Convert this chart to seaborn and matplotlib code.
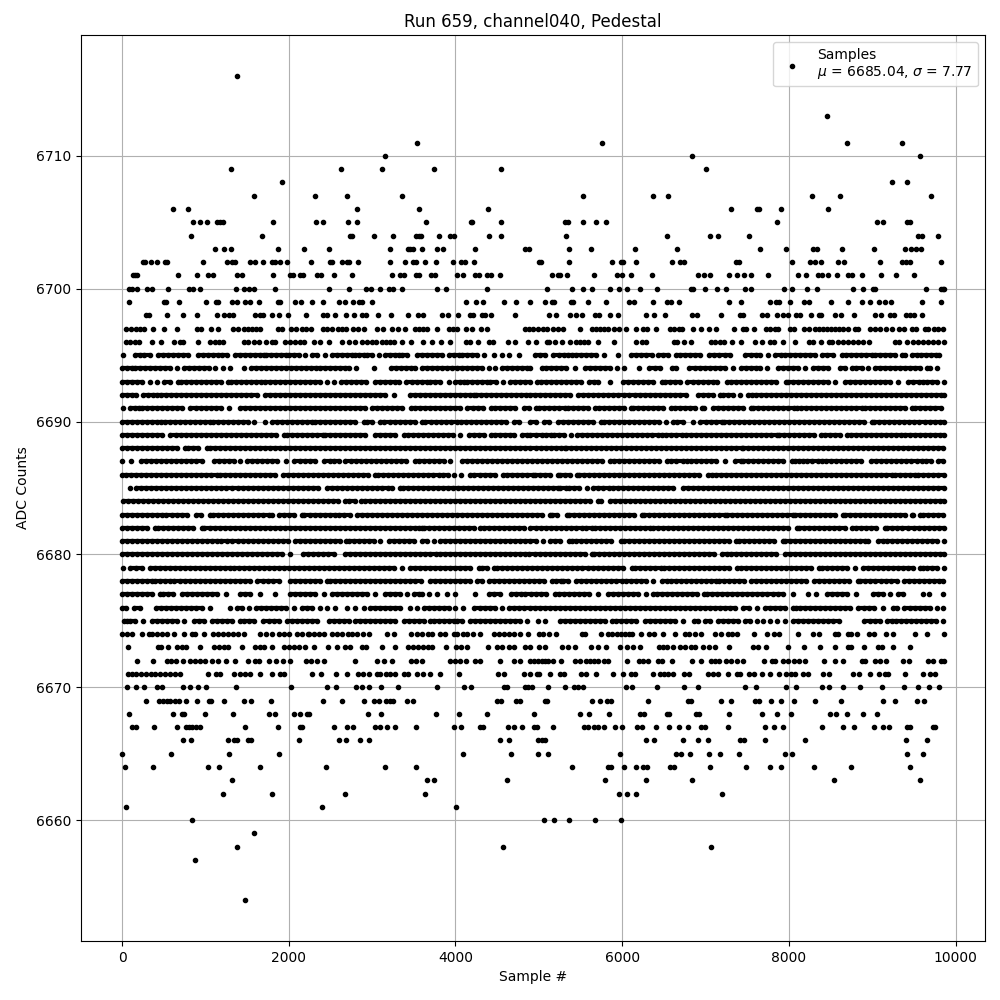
import pandas as pd
import seaborn as sns
import matplotlib.pyplot as plt

# sample numbers, one list per ADC level
adc_6716 = [1376]
adc_6713 = [8460]
adc_6711 = [3536, 5760, 8700, 9360]
adc_6710 = [3152, 6840, 9576]
adc_6709 = [1304, 2624, 3116, 3740, 4544, 7008]
adc_6708 = [1916, 9240, 9420]
adc_6707 = [1580, 2312, 2696, 3356, 5532, 6372, 6552, 8280, 8616, 9708]
adc_6706 = [608, 788, 2816, 3560, 4388, 7308, 7620, 7640, 7908, 8472]
adc_6705 = [848, 932, 1016, 1140, 1176, 1212, 1808, 2324, 2408, 2708, 2816, 3644, 4188, 4204, 4544, 5316, 5352, 5532, 5688, 5808, 7860, 9060, 9132, 9420, 9456]
adc_6704 = [824, 1676, 2740, 2764, 3020, 3248, 3532, 3558, 3584, 3804, 3940, 3980, 4400, 4544, 5328, 6540, 7056, 7152, 7524, 9552, 9600, 9792]
adc_6703 = [1112, 1220, 1304, 1868, 2180, 2480, 3212, 3428, 3458, 3488, 3596, 3776, 3848, 4232, 4832, 4880, 5364, 5628, 6156, 6660, 7656, 7968, 8292, 8340, 8640, 9024, 9396, 9468, 9528, 9588]
adc_6702 = [248, 272, 344, 416, 512, 540, 968, 1256, 1316, 1352, 1532, 1592, 1688, 1796, 1832, 1896, 1976, 2264, 2492, 2516, 2636, 2700, 2724, 2828, 3212, 3392, 3488, 3524, 3632, 3764, 3968, 4064, 4112, 4220, 5004, 5020, 5364, 5880, 5988, 6012, 6168, 6600, 6696, 6744, 7368, 7404, 8040, 8256, 8316, 8388, 8592, 8664, 9096, 9360, 9408, 9456, 9828]
adc_6701 = [128, 152, 176, 668, 896, 1028, 1088, 1376, 1436, 1808, 2012, 2048, 2132, 2168, 2336, 2384, 2540, 2756, 3236, 3332, 3380, 3524, 3560, 3704, 3752, 4016, 4088, 4232, 4280, 4376, 4424, 4532, 5160, 5232, 5256, 5340, 5664, 5940, 6000, 6108, 6360, 6912, 6984, 7056, 7284, 7380, 7464, 7548, 7752, 8112, 8208, 8352, 8400, 8472, 8580, 8712, 8760, 8880, 9108, 9288, 9504]
adc_6700 = [80, 116, 176, 296, 356, 548, 800, 848, 932, 1364, 1460, 1520, 1580, 1832, 2480, 2720, 2924, 2984, 3100, 3200, 3252, 3356, 3776, 3884, 4376, 5100, 5400, 5532, 5640, 5856, 5964, 6060, 6216, 6420, 6828, 6852, 6996, 7140, 7248, 7476, 7548, 7944, 8040, 8220, 8340, 8772, 8892, 9012, 9036, 9648, 9820, 9845, 9860]
adc_6699 = [80, 500, 524, 680, 1004, 1124, 1148, 1316, 1376, 1472, 1532, 1640, 1868, 1892, 2072, 2144, 2276, 2416, 2600, 2672, 2768, 2840, 2876, 2996, 4124, 4244, 4328, 4580, 4724, 4892, 5076, 5160, 5184, 5388, 5412, 5592, 5808, 6084, 6144, 6372, 6540, 6588, 6684, 7284, 7428, 7776, 7848, 7884, 8016, 8184, 8244, 8508, 8712, 8880, 8976, 9084, 9156, 9228, 9600, 9828]
adc_6698 = [284, 320, 536, 728, 896, 1136, 1220, 1280, 1328, 1592, 1652, 1688, 1796, 1880, 1988, 2204, 2408, 2456, 2552, 2684, 2780, 2876, 2924, 3068, 3224, 3428, 3548, 3608, 3836, 3908, 4028, 4172, 4208, 4316, 4352, 4424, 4712, 5124, 5208, 5376, 5448, 5520, 5676, 5724, 5856, 5952, 6288, 6384, 6516, 6840, 6900, 7188, 7416, 7452, 7680, 7740, 7860, 7932, 7992, 8088, 8136, 8268, 8364, 8388, 8556, 8628, 8784, 9036, 9108, 9216, 9264, 9408, 9456, 9504, 9600]
adc_6697 = [44, 104, 164, 212, 260, 368, 500, 656, 896, 944, 1064, 1148, 1328, 1388, 1460, 1508, 1556, 1604, 1652, 1868, 1916, 2024, 2084, 2156, 2204, 2264, 2408, 2456, 2516, 2588, 2636, 2684, 2768, 2828, 2900, 3056, 3128, 3236, 3308, 3396, 3512, 3560, 3608, 3656, 3776, 3920, 3968, 4016, 4124, 4196, 4304, 4376, 4832, 4880, 4932, 4992, 5052, 5100, 5172, 5232, 5292, 5496, 5640, 5688, 5736, 5784, 5832, 5904, 5964, 6048, 6168, 6252, 6300, 6408, 6576, 6624, 6684, 6720, 6852, 6948, 7044, 7128, 7344, 7452, 7488, 7584, 7728, 7776, 7836, 7872, 8016, 8064, 8184, 8244, 8316, 8364, 8412, 8460, 8508, 8556, 8604, 8652, 8712, 8796, 8832, 8976, 9036, 9096, 9168, 9240, 9324, 9384, 9480, 9528, 9636, 9672, 9744, 9792, 9852]
adc_6696 = [44, 92, 152, 200, 356, 464, 620, 692, 728, 908, 1052, 1112, 1160, 1208, 1460, 1508, 1580, 1640, 1724, 1796, 1832, 1952, 2012, 2072, 2132, 2180, 2300, 2372, 2480, 2636, 2720, 2792, 2876, 2936, 2996, 3044, 3116, 3164, 3212, 3260, 3356, 3464, 3608, 3716, 3824, 3932, 4124, 4172, 4268, 4400, 4448, 4628, 4712, 4868, 4968, 5100, 5124, 5196, 5280, 5376, 5448, 5496, 5544, 5592, 5712, 5904, 6168, 6240, 6288, 6624, 6660, 6744, 6828, 7068, 7116, 7176, 7224, 7320, 7428, 7596, 7680, 7776, 7824, 7932, 8076, 8244, 8292, 8380, 8484, 8520, 8592, 8652, 8712, 8772, 8832, 8892, 8964, 9276, 9324, 9420, 9492, 9552, 9612, 9672, 9732, 9792, 9860]
adc_6695 = [8, 160, 220, 260, 332, 428, 490, 550, 610, 670, 730, 788, 908, 970, 1030, 1090, 1150, 1200, 1260, 1360, 1420, 1480, 1540, 1600, 1660, 1700, 1728, 1790, 1850, 1910, 1970, 2000, 2060, 2120, 2200, 2280, 2340, 2440, 2520, 2580, 2640, 2700, 2760, 2800, 2840, 2900, 2940, 3000, 3080, 3160, 3220, 3280, 3320, 3360, 3420, 3540, 3600, 3660, 3720, 3780, 3840, 3920, 3980, 4040, 4080, 4140, 4200, 4260, 4340, 4460, 4560, 4640, 4760, 4952, 5010, 5072, 5172, 5240, 5300, 5352, 5392, 5450, 5510, 5570, 5630, 5690, 5780, 5952, 6104, 6170, 6230, 6290, 6352, 6432, 6490, 6550, 6640, 6692, 6750, 6810, 6870, 6932, 7040, 7100, 7160, 7232, 7292, 7472, 7540, 7600, 7652, 7752, 7832, 7900, 7952, 8012, 8070, 8130, 8190, 8250, 8312, 8392, 8460, 8524, 8632, 8690, 8750, 8810, 8870, 8930, 8992, 9032, 9090, 9150, 9210, 9270, 9352, 9392, 9472, 9532, 9590, 9650, 9710, 9770, 9804]
adc_6694 = [0, 60, 120, 160, 212, 270, 330, 390, 450, 510, 570, 660, 740, 800, 860, 920, 980, 1040, 1120, 1212, 1292, 1460, 1548, 1610, 1670, 1730, 1790, 1850, 1910, 1970, 2030, 2090, 2150, 2210, 2270, 2332, 2372, 2430, 2490, 2550, 2610, 2680, 2720, 2812, 3020, 3228, 3290, 3350, 3410, 3470, 3520, 3600, 3660, 3720, 3780, 3840, 3900, 3960, 4020, 4080, 4140, 4200, 4260, 4320, 4400, 4480, 4560, 4620, 4680, 4740, 4800, 4860, 4892, 5032, 5090, 5150, 5210, 5270, 5330, 5432, 5552, 5610, 5670, 5730, 5790, 5850, 5932, 6024, 6200, 6320, 6390, 6452, 6592, 6640, 6804, 6870, 6930, 6990, 7050, 7110, 7170, 7230, 7324, 7420, 7480, 7540, 7600, 7652, 7732, 7872, 7930, 7990, 8050, 8110, 8192, 8284, 8350, 8410, 8472, 8612, 8672, 8752, 8810, 8872, 8952, 9032, 9090, 9150, 9210, 9270, 9330, 9390, 9450, 9510, 9570, 9652, 9692, 9772]
adc_6693 = [0, 60, 120, 180, 240, 340, 420, 508, 570, 668, 708, 770, 830, 890, 950, 1010, 1070, 1130, 1190, 1268, 1308, 1370, 1430, 1490, 1550, 1610, 1668, 1720, 1780, 1840, 1900, 1960, 2020, 2080, 2140, 2200, 2260, 2320, 2380, 2460, 2548, 2628, 2690, 2750, 2810, 2870, 2928, 3040, 3100, 3160, 3212, 3270, 3320, 3412, 3480, 3540, 3600, 3660, 3700, 3760, 3820, 3920, 4000, 4060, 4100, 4140, 4200, 4260, 4320, 4380, 4420, 4490, 4572, 4652, 4710, 4770, 4830, 4892, 4972, 5020, 5080, 5140, 5200, 5260, 5320, 5380, 5440, 5500, 5604, 5660, 5712, 5852, 6012, 6070, 6130, 6190, 6250, 6310, 6370, 6472, 6512, 6570, 6630, 6690, 6780, 6852, 6910, 6970, 7030, 7090, 7140, 7252, 7310, 7370, 7430, 7490, 7550, 7610, 7670, 7730, 7790, 7850, 7964, 7992, 8050, 8110, 8170, 8230, 8290, 8350, 8410, 8472, 8552, 8672, 8730, 8790, 8850, 8910, 8970, 9030, 9090, 9150, 9210, 9312, 9432, 9490, 9564, 9604, 9660, 9720, 9780, 9860]
adc_6692 = [0, 60, 120, 172, 252, 310, 370, 420, 472, 530, 590, 650, 710, 770, 830, 890, 950, 1010, 1070, 1130, 1190, 1250, 1310, 1370, 1430, 1490, 1550, 1620, 1720, 1780, 1840, 1900, 1960, 2020, 2080, 2140, 2200, 2260, 2320, 2380, 2440, 2500, 2560, 2620, 2680, 2740, 2800, 2860, 2920, 2980, 3040, 3100, 3160, 3268, 3452, 3510, 3570, 3630, 3690, 3750, 3810, 3870, 3930, 3990, 4050, 4110, 4170, 4220, 4252, 4310, 4370, 4430, 4490, 4550, 4610, 4670, 4730, 4790, 4850, 4892, 4950, 5010, 5070, 5130, 5190, 5250, 5310, 5370, 5472, 5532, 5590, 5650, 5710, 5770, 5830, 5890, 5950, 6024, 6084, 6150, 6210, 6270, 6330, 6390, 6450, 6510, 6570, 6630, 6690, 6760, 6912, 6970, 7030, 7090, 7172, 7204, 7270, 7330, 7412, 7504, 7552, 7610, 7670, 7730, 7790, 7850, 7910, 7970, 8030, 8090, 8150, 8210, 8270, 8330, 8390, 8450, 8510, 8570, 8630, 8690, 8750, 8810, 8870, 8930, 8990, 9050, 9110, 9170, 9230, 9290, 9350, 9410, 9470, 9530, 9590, 9650, 9710, 9770, 9830, 9860]
adc_6691 = [8, 92, 150, 200, 240, 300, 360, 420, 480, 540, 600, 660, 720, 820, 892, 950, 1010, 1070, 1130, 1188, 1280, 1412, 1470, 1530, 1590, 1650, 1710, 1770, 1830, 1890, 1950, 2010, 2070, 2130, 2190, 2250, 2310, 2370, 2430, 2490, 2550, 2610, 2670, 2730, 2790, 2850, 2910, 3000, 3060, 3120, 3180, 3240, 3300, 3360, 3468, 3520, 3580, 3640, 3700, 3760, 3820, 3880, 3940, 4000, 4060, 4140, 4212, 4270, 4330, 4428, 4480, 4540, 4600, 4660, 4720, 4820, 4880, 4964, 5004, 5060, 5120, 5180, 5240, 5312, 5352, 5410, 5470, 5530, 5590, 5672, 5724, 5780, 5840, 5900, 5960, 6020, 6100, 6132, 6190, 6250, 6310, 6372, 6432, 6490, 6580, 6632, 6690, 6750, 6810, 6870, 6952, 6980, 7092, 7150, 7210, 7270, 7330, 7390, 7450, 7540, 7572, 7630, 7690, 7750, 7810, 7870, 7930, 7990, 8064, 8092, 8150, 8210, 8270, 8330, 8390, 8450, 8510, 8570, 8630, 8690, 8750, 8810, 8872, 8912, 8970, 9030, 9090, 9150, 9210, 9270, 9330, 9390, 9472, 9512, 9570, 9630, 9690, 9750, 9820]
adc_6690 = [0, 60, 120, 180, 240, 300, 360, 420, 472, 520, 580, 640, 700, 760, 820, 880, 940, 1000, 1060, 1092, 1150, 1210, 1270, 1330, 1390, 1450, 1510, 1588, 1720, 1800, 1860, 1920, 1980, 2040, 2100, 2160, 2220, 2280, 2320, 2380, 2440, 2500, 2560, 2620, 2680, 2740, 2800, 2900, 2940, 3000, 3100, 3148, 3210, 3270, 3330, 3390, 3450, 3510, 3600, 3640, 3712, 3772, 3830, 3890, 3950, 4020, 4068, 4130, 4190, 4250, 4310, 4370, 4430, 4490, 4550, 4610, 4700, 4760, 4892, 4964, 5060, 5120, 5232, 5292, 5350, 5410, 5470, 5530, 5590, 5650, 5740, 5780, 5840, 5900, 5960, 6020, 6080, 6140, 6200, 6260, 6320, 6380, 6440, 6524, 6604, 6660, 6724, 6852, 6932, 7004, 7060, 7120, 7192, 7220, 7280, 7340, 7400, 7460, 7520, 7580, 7640, 7700, 7760, 7820, 7880, 7940, 8000, 8060, 8120, 8180, 8240, 8300, 8360, 8420, 8480, 8540, 8600, 8660, 8720, 8780, 8840, 8900, 8992, 9020, 9080, 9140, 9200, 9260, 9320, 9380, 9440, 9500, 9560, 9632, 9692, 9750, 9810, 9860]
adc_6689 = [0, 60, 120, 180, 240, 300, 360, 420, 480, 580, 652, 710, 770, 830, 890, 950, 1010, 1070, 1130, 1190, 1250, 1310, 1370, 1430, 1490, 1550, 1610, 1670, 1730, 1790, 1850, 1940, 1980, 2040, 2100, 2160, 2220, 2280, 2340, 2412, 2440, 2500, 2560, 2620, 2680, 2740, 2800, 2860, 2920, 3040, 3100, 3160, 3220, 3280, 3380, 3428, 3490, 3550, 3610, 3670, 3730, 3790, 3850, 3910, 3970, 4052, 4160, 4220, 4280, 4340, 4428, 4472, 4530, 4590, 4650, 4700, 4800, 4860, 4900, 4960, 5032, 5084, 5140, 5180, 5240, 5300, 5380, 5460, 5520, 5580, 5640, 5700, 5760, 5820, 5880, 5940, 6000, 6060, 6120, 6180, 6240, 6300, 6360, 6432, 6472, 6530, 6590, 6650, 6712, 6764, 6820, 6880, 6940, 7000, 7060, 7120, 7180, 7240, 7300, 7360, 7420, 7480, 7540, 7600, 7660, 7720, 7780, 7852, 7884, 7940, 8000, 8060, 8120, 8180, 8240, 8300, 8380, 8432, 8490, 8550, 8610, 8692, 8740, 8800, 8860, 8920, 8980, 9040, 9100, 9160, 9220, 9280, 9340, 9392, 9452, 9510, 9570, 9630, 9690, 9750, 9810, 9860]
adc_6688 = [0, 60, 120, 180, 240, 300, 360, 420, 480, 540, 600, 660, 760, 788, 850, 910, 1020, 1060, 1120, 1180, 1240, 1300, 1360, 1420, 1480, 1540, 1600, 1660, 1720, 1780, 1840, 1900, 1960, 2020, 2080, 2140, 2200, 2260, 2320, 2380, 2440, 2500, 2560, 2620, 2680, 2740, 2800, 2860, 2920, 2980, 3040, 3100, 3160, 3220, 3280, 3340, 3400, 3460, 3520, 3580, 3640, 3700, 3760, 3820, 3880, 3940, 4000, 4060, 4120, 4180, 4240, 4300, 4360, 4420, 4480, 4540, 4600, 4660, 4720, 4780, 4840, 4900, 4960, 5020, 5080, 5140, 5200, 5260, 5312, 5324, 5380, 5440, 5500, 5560, 5620, 5680, 5740, 5800, 5860, 5920, 5980, 6040, 6100, 6160, 6220, 6280, 6340, 6400, 6460, 6520, 6580, 6640, 6700, 6760, 6820, 6880, 6940, 7000, 7060, 7120, 7180, 7240, 7300, 7360, 7432, 7452, 7510, 7570, 7630, 7690, 7750, 7810, 7870, 7930, 7990, 8050, 8110, 8170, 8230, 8290, 8350, 8410, 8470, 8530, 8590, 8650, 8710, 8770, 8830, 8890, 8950, 9010, 9070, 9130, 9190, 9250, 9310, 9370, 9430, 9490, 9550, 9610, 9670, 9730, 9790, 9852]
adc_6687 = [0, 108, 228, 290, 350, 410, 470, 530, 590, 650, 710, 770, 830, 890, 960, 1100, 1160, 1220, 1280, 1340, 1420, 1500, 1560, 1620, 1680, 1740, 1800, 1860, 1972, 2068, 2130, 2190, 2252, 2320, 2420, 2492, 2540, 2600, 2680, 2748, 2810, 2870, 2930, 2990, 3050, 3110, 3170, 3230, 3290, 3350, 3410, 3520, 3560, 3620, 3680, 3740, 3800, 3860, 3940, 4080, 4140, 4200, 4260, 4320, 4380, 4440, 4500, 4560, 4620, 4680, 4740, 4800, 4860, 4920, 4980, 5040, 5100, 5160, 5220, 5280, 5340, 5400, 5460, 5520, 5580, 5640, 5700, 5760, 5852, 5900, 5960, 6020, 6080, 6140, 6200, 6260, 6320, 6380, 6440, 6532, 6580, 6650, 6724, 6772, 6830, 6890, 6950, 7010, 7070, 7130, 7232, 7352, 7420, 7452, 7510, 7570, 7630, 7690, 7750, 7810, 7870, 7930, 8032, 8072, 8124, 8164, 8220, 8280, 8352, 8392, 8450, 8510, 8570, 8630, 8690, 8750, 8810, 8870, 8980, 9044, 9100, 9160, 9220, 9280, 9340, 9400, 9460, 9532, 9592, 9650, 9710, 9792, 9852]
adc_6686 = [0, 52, 110, 170, 230, 290, 350, 410, 470, 530, 590, 650, 710, 770, 830, 890, 950, 1010, 1070, 1140, 1172, 1230, 1290, 1350, 1410, 1470, 1530, 1590, 1650, 1710, 1770, 1830, 1932, 1992, 2050, 2110, 2170, 2230, 2290, 2350, 2410, 2470, 2530, 2590, 2650, 2710, 2770, 2830, 2890, 2950, 3040, 3072, 3130, 3190, 3250, 3310, 3370, 3430, 3490, 3550, 3610, 3670, 3730, 3800, 3852, 3910, 3988, 4068, 4172, 4228, 4290, 4350, 4410, 4470, 4572, 4620, 4680, 4740, 4800, 4860, 4932, 4952, 5010, 5070, 5130, 5232, 5252, 5310, 5370, 5452, 5484, 5540, 5600, 5660, 5720, 5780, 5840, 5900, 5960, 6020, 6080, 6140, 6200, 6260, 6320, 6380, 6440, 6500, 6560, 6620, 6680, 6740, 6800, 6860, 6920, 7024, 7072, 7130, 7190, 7250, 7310, 7370, 7430, 7490, 7550, 7610, 7670, 7730, 7790, 7850, 7910, 7970, 8030, 8090, 8150, 8210, 8270, 8330, 8390, 8450, 8510, 8570, 8630, 8690, 8750, 8810, 8870, 8930, 8990, 9050, 9110, 9170, 9232, 9272, 9330, 9390, 9450, 9512, 9552, 9610, 9670, 9730, 9790, 9860]
adc_6685 = [92, 172, 230, 290, 350, 410, 470, 530, 590, 650, 710, 770, 830, 890, 950, 1010, 1070, 1130, 1190, 1250, 1320, 1392, 1450, 1510, 1570, 1630, 1690, 1750, 1810, 1870, 1930, 1990, 2050, 2110, 2170, 2230, 2290, 2350, 2460, 2520, 2580, 2640, 2700, 2760, 2820, 2880, 2940, 3000, 3060, 3120, 3188, 3240, 3332, 3372, 3430, 3490, 3550, 3610, 3670, 3730, 3790, 3850, 3910, 3970, 4030, 4090, 4150, 4210, 4270, 4330, 4390, 4450, 4510, 4570, 4630, 4690, 4750, 4810, 4870, 4930, 4990, 5050, 5110, 5170, 5232, 5252, 5324, 5364, 5420, 5480, 5572, 5652, 5710, 5770, 5844, 5892, 5950, 6010, 6070, 6130, 6190, 6250, 6310, 6370, 6430, 6490, 6550, 6612, 6732, 6790, 6850, 6910, 6970, 7030, 7090, 7150, 7210, 7270, 7330, 7390, 7450, 7510, 7570, 7630, 7690, 7750, 7810, 7870, 7930, 7990, 8050, 8110, 8170, 8230, 8290, 8350, 8410, 8470, 8530, 8590, 8650, 8710, 8770, 8830, 8890, 8950, 9010, 9070, 9130, 9190, 9250, 9310, 9370, 9430, 9490, 9550, 9610, 9670, 9730, 9790, 9860]
adc_6684 = [12, 70, 130, 190, 250, 310, 370, 430, 490, 550, 610, 670, 730, 790, 850, 910, 970, 1030, 1090, 1150, 1210, 1270, 1330, 1390, 1450, 1510, 1570, 1630, 1690, 1750, 1810, 1870, 1930, 1990, 2050, 2110, 2170, 2230, 2290, 2350, 2410, 2470, 2530, 2590, 2680, 2720, 2790, 2872, 2920, 2972, 3030, 3090, 3150, 3210, 3270, 3330, 3390, 3450, 3510, 3570, 3630, 3690, 3750, 3810, 3870, 3930, 3990, 4050, 4110, 4170, 4230, 4290, 4350, 4410, 4470, 4530, 4590, 4650, 4710, 4770, 4830, 4890, 4950, 5010, 5070, 5130, 5190, 5250, 5310, 5370, 5430, 5490, 5550, 5610, 5712, 5740, 5852, 5912, 5970, 6030, 6090, 6150, 6210, 6270, 6330, 6390, 6450, 6510, 6570, 6630, 6690, 6750, 6810, 6870, 6930, 6990, 7050, 7110, 7170, 7230, 7290, 7350, 7410, 7470, 7530, 7590, 7650, 7710, 7770, 7830, 7890, 7950, 8010, 8070, 8130, 8190, 8250, 8310, 8370, 8430, 8490, 8550, 8610, 8670, 8730, 8790, 8850, 8910, 8970, 9030, 9090, 9150, 9210, 9270, 9330, 9390, 9450, 9510, 9570, 9630, 9690, 9750, 9810, 9860]
adc_6683 = [0, 60, 120, 180, 240, 300, 360, 420, 480, 532, 600, 660, 720, 780, 888, 948, 1052, 1092, 1150, 1210, 1270, 1330, 1390, 1450, 1510, 1570, 1630, 1690, 1760, 1800, 1880, 1940, 2000, 2060, 2160, 2188, 2250, 2310, 2370, 2430, 2490, 2560, 2600, 2668, 2740, 2820, 2880, 2940, 3000, 3060, 3120, 3180, 3240, 3300, 3360, 3420, 3480, 3540, 3600, 3660, 3720, 3780, 3840, 3900, 3960, 4020, 4080, 4140, 4200, 4260, 4320, 4380, 4440, 4500, 4560, 4620, 4680, 4740, 4800, 4860, 4920, 4980, 5040, 5132, 5152, 5220, 5332, 5364, 5420, 5480, 5540, 5600, 5660, 5720, 5780, 5840, 5900, 5960, 6020, 6080, 6140, 6232, 6260, 6320, 6380, 6440, 6500, 6560, 6620, 6680, 6740, 6800, 6860, 6920, 6980, 7040, 7100, 7160, 7232, 7260, 7320, 7380, 7440, 7500, 7560, 7620, 7680, 7740, 7800, 7860, 7920, 7980, 8052, 8072, 8130, 8190, 8250, 8310, 8370, 8430, 8490, 8550, 8652, 8672, 8730, 8790, 8850, 8910, 8970, 9030, 9090, 9150, 9210, 9270, 9330, 9390, 9472, 9492, 9572, 9612, 9670, 9730, 9790, 9844]
adc_6682 = [0, 60, 120, 180, 240, 300, 400, 428, 490, 550, 610, 670, 730, 790, 850, 960, 988, 1050, 1110, 1170, 1230, 1290, 1350, 1410, 1470, 1530, 1590, 1650, 1710, 1770, 1830, 1890, 1950, 2010, 2070, 2130, 2190, 2250, 2310, 2370, 2430, 2490, 2550, 2610, 2670, 2730, 2790, 2850, 2910, 2970, 3030, 3090, 3150, 3210, 3270, 3330, 3390, 3450, 3520, 3560, 3600, 3620, 3680, 3740, 3800, 3860, 3920, 3980, 4040, 4100, 4160, 4220, 4300, 4340, 4400, 4460, 4520, 4580, 4640, 4700, 4760, 4820, 4900, 4960, 5020, 5080, 5140, 5200, 5260, 5320, 5380, 5440, 5512, 5564, 5632, 5672, 5730, 5790, 5850, 5910, 5970, 6030, 6090, 6150, 6210, 6270, 6332, 6372, 6430, 6490, 6550, 6610, 6670, 6730, 6790, 6850, 6910, 6970, 7030, 7090, 7150, 7210, 7270, 7330, 7390, 7450, 7510, 7570, 7630, 7690, 7750, 7810, 7870, 7930, 7990, 8092, 8124, 8180, 8240, 8300, 8360, 8420, 8480, 8540, 8600, 8672, 8752, 8810, 8870, 8930, 8990, 9050, 9152, 9180, 9240, 9300, 9360, 9432, 9500, 9560, 9620, 9680, 9740, 9800, 9860]
adc_6681 = [0, 60, 120, 180, 240, 300, 360, 420, 480, 540, 600, 660, 720, 780, 840, 900, 960, 1020, 1080, 1140, 1188, 1260, 1320, 1388, 1450, 1510, 1570, 1630, 1690, 1750, 1810, 1870, 1930, 1990, 2080, 2132, 2190, 2250, 2310, 2370, 2430, 2490, 2550, 2610, 2692, 2720, 2780, 2840, 2900, 2960, 3020, 3100, 3200, 3260, 3320, 3380, 3440, 3500, 3600, 3660, 3740, 3820, 3880, 3940, 4000, 4060, 4120, 4180, 4240, 4300, 4360, 4420, 4480, 4540, 4600, 4660, 4720, 4780, 4840, 4900, 4960, 5052, 5132, 5190, 5250, 5364, 5392, 5450, 5510, 5570, 5630, 5690, 5750, 5810, 5870, 5980, 6020, 6080, 6140, 6200, 6260, 6320, 6380, 6440, 6500, 6560, 6620, 6680, 6740, 6800, 6860, 6920, 6980, 7040, 7100, 7160, 7220, 7280, 7364, 7404, 7460, 7520, 7580, 7640, 7700, 7760, 7820, 7924, 7952, 8010, 8070, 8130, 8190, 8250, 8310, 8370, 8430, 8490, 8550, 8610, 8670, 8730, 8790, 8850, 8912, 8952, 9072, 9124, 9180, 9240, 9300, 9360, 9420, 9480, 9540, 9600, 9660, 9720, 9780, 9860]
adc_6680 = [0, 60, 120, 180, 240, 300, 360, 420, 480, 540, 600, 660, 720, 780, 840, 900, 960, 1020, 1080, 1140, 1200, 1260, 1320, 1380, 1440, 1500, 1560, 1620, 1680, 1740, 1800, 1860, 1920, 2020, 2172, 2230, 2290, 2350, 2410, 2470, 2540, 2680, 2740, 2800, 2860, 2920, 2980, 3040, 3100, 3160, 3220, 3280, 3340, 3400, 3460, 3520, 3580, 3640, 3700, 3772, 3812, 3870, 3930, 3990, 4050, 4110, 4170, 4230, 4290, 4350, 4410, 4470, 4530, 4590, 4650, 4710, 4770, 4830, 4880, 4950, 5010, 5070, 5130, 5190, 5250, 5310, 5370, 5430, 5490, 5550, 5632, 5660, 5720, 5780, 5840, 5900, 5960, 6020, 6080, 6140, 6200, 6260, 6320, 6380, 6440, 6500, 6560, 6620, 6680, 6740, 6800, 6860, 6920, 6980, 7040, 7100, 7192, 7252, 7310, 7370, 7430, 7490, 7550, 7610, 7670, 7730, 7790, 7850, 7952, 8012, 8070, 8130, 8190, 8250, 8310, 8370, 8430, 8490, 8550, 8610, 8670, 8730, 8790, 8850, 8910, 8970, 9030, 9090, 9150, 9210, 9270, 9330, 9390, 9450, 9510, 9570, 9630, 9690, 9750, 9810, 9860]
adc_6679 = [12, 100, 172, 240, 332, 390, 450, 510, 570, 630, 690, 750, 810, 870, 930, 990, 1050, 1110, 1170, 1230, 1290, 1340, 1400, 1460, 1520, 1580, 1640, 1700, 1760, 1820, 1880, 1940, 2000, 2060, 2120, 2180, 2240, 2300, 2360, 2420, 2480, 2540, 2600, 2660, 2720, 2780, 2840, 2900, 2960, 3020, 3080, 3140, 3200, 3260, 3360, 3460, 3520, 3580, 3640, 3700, 3760, 3820, 3880, 3940, 4000, 4060, 4120, 4180, 4280, 4320, 4380, 4460, 4500, 4560, 4620, 4680, 4740, 4800, 4860, 4920, 4980, 5040, 5100, 5160, 5220, 5280, 5340, 5400, 5460, 5520, 5592, 5652, 5710, 5770, 5830, 5890, 5950, 6010, 6112, 6152, 6210, 6270, 6330, 6390, 6460, 6500, 6560, 6620, 6680, 6740, 6800, 6860, 6920, 6980, 7040, 7100, 7160, 7220, 7280, 7380, 7420, 7480, 7540, 7600, 7660, 7720, 7780, 7840, 7900, 7960, 8020, 8080, 8140, 8200, 8260, 8364, 8400, 8460, 8520, 8580, 8640, 8700, 8792, 8892, 8950, 9010, 9070, 9130, 9190, 9250, 9310, 9370, 9430, 9490, 9572, 9604, 9660, 9720, 9780, 9860]
adc_6678 = [0, 60, 120, 180, 240, 300, 360, 400, 460, 520, 580, 628, 690, 750, 810, 870, 930, 990, 1050, 1110, 1170, 1230, 1290, 1350, 1410, 1470, 1530, 1620, 1692, 1750, 1810, 1880, 2012, 2070, 2130, 2190, 2250, 2310, 2370, 2460, 2500, 2560, 2620, 2680, 2740, 2800, 2860, 2920, 2980, 3040, 3100, 3160, 3220, 3280, 3340, 3400, 3460, 3520, 3588, 3692, 3750, 3810, 3870, 3940, 4000, 4060, 4120, 4180, 4260, 4320, 4400, 4460, 4520, 4580, 4640, 4700, 4760, 4820, 4880, 4940, 5000, 5060, 5152, 5204, 5260, 5292, 5350, 5444, 5500, 5560, 5620, 5680, 5740, 5800, 5860, 5920, 5992, 6044, 6100, 6160, 6220, 6280, 6364, 6472, 6532, 6590, 6650, 6710, 6770, 6830, 6890, 6950, 7010, 7070, 7124, 7164, 7220, 7280, 7340, 7400, 7460, 7540, 7604, 7660, 7720, 7780, 7840, 7900, 7960, 8020, 8080, 8140, 8204, 8300, 8360, 8420, 8480, 8540, 8600, 8660, 8720, 8832, 8852, 8910, 8970, 9030, 9100, 9164, 9230, 9292, 9380, 9440, 9500, 9560, 9620, 9680, 9740, 9800, 9844]
adc_6677 = [0, 60, 120, 180, 240, 300, 360, 460, 492, 550, 610, 720, 780, 840, 900, 960, 1020, 1080, 1140, 1252, 1420, 1480, 1540, 1652, 1840, 2020, 2080, 2140, 2200, 2260, 2320, 2420, 2520, 2580, 2640, 2700, 2760, 2820, 2880, 2940, 3040, 3160, 3220, 3280, 3340, 3420, 3500, 3560, 3600, 3680, 3780, 3900, 4000, 4240, 4400, 4460, 4532, 4668, 4730, 4790, 4840, 4912, 4970, 5030, 5090, 5192, 5244, 5300, 5360, 5420, 5480, 5540, 5600, 5712, 5832, 5890, 5950, 6010, 6070, 6130, 6190, 6284, 6364, 6420, 6480, 6540, 6600, 6660, 6720, 6780, 6840, 6900, 6980, 7020, 7080, 7140, 7200, 7260, 7320, 7380, 7440, 7500, 7560, 7620, 7680, 7740, 7812, 7872, 7924, 8052, 8232, 8324, 8460, 8520, 8580, 8640, 8700, 8804, 9012, 9070, 9130, 9212, 9304, 9372, 9604, 9684, 9852]
adc_6676 = [0, 52, 148, 212, 412, 470, 530, 590, 650, 710, 770, 830, 890, 960, 1060, 1292, 1380, 1440, 1520, 1612, 1670, 1730, 1790, 1850, 1910, 1970, 2060, 2160, 2220, 2280, 2372, 2460, 2560, 2700, 2800, 2900, 2980, 3040, 3100, 3160, 3220, 3280, 3340, 3460, 3540, 3620, 3680, 3740, 3800, 3860, 3920, 4000, 4092, 4228, 4290, 4350, 4410, 4480, 4560, 4640, 4700, 4760, 4820, 4892, 4950, 5010, 5070, 5130, 5190, 5250, 5310, 5370, 5430, 5490, 5550, 5610, 5670, 5730, 5790, 5850, 5910, 5970, 6030, 6090, 6150, 6210, 6270, 6330, 6390, 6450, 6510, 6570, 6630, 6690, 6750, 6810, 6870, 6930, 6990, 7050, 7110, 7170, 7230, 7290, 7350, 7452, 7524, 7612, 7712, 7770, 7830, 7890, 7950, 8052, 8084, 8132, 8192, 8250, 8310, 8370, 8430, 8490, 8550, 8610, 8670, 8730, 8832, 8904, 8960, 9020, 9124, 9244, 9300, 9380, 9452, 9510, 9570, 9630, 9690, 9772, 9852]
adc_6675 = [20, 60, 100, 160, 252, 360, 420, 480, 540, 600, 660, 740, 860, 920, 980, 1080, 1140, 1200, 1260, 1320, 1420, 1460, 1520, 1580, 1692, 1760, 1820, 1880, 1980, 2040, 2100, 2160, 2220, 2280, 2340, 2480, 2540, 2600, 2660, 2720, 2800, 2860, 2920, 2980, 3040, 3100, 3160, 3220, 3280, 3380, 3440, 3500, 3560, 3620, 3700, 3740, 3800, 3860, 3920, 3980, 4020, 4080, 4180, 4240, 4300, 4360, 4420, 4480, 4540, 4600, 4660, 4720, 4780, 4860, 4992, 5072, 5252, 5310, 5370, 5430, 5490, 5550, 5610, 5670, 5730, 5792, 5872, 5930, 5990, 6050, 6110, 6170, 6272, 6332, 6390, 6450, 6510, 6570, 6630, 6732, 6864, 6912, 6992, 7050, 7152, 7212, 7270, 7330, 7390, 7472, 7532, 7612, 7692, 7772, 7852, 7952, 8052, 8110, 8170, 8230, 8290, 8350, 8410, 8470, 8532, 8604, 8904, 8972, 9030, 9090, 9172, 9232, 9290, 9350, 9410, 9470, 9530, 9590, 9650, 9710, 9770, 9852]
adc_6674 = [0, 60, 120, 240, 320, 360, 420, 480, 540, 628, 740, 840, 880, 988, 1088, 1150, 1210, 1270, 1330, 1390, 1468, 1660, 1730, 1800, 1880, 1940, 2000, 2100, 2160, 2228, 2240, 2300, 2360, 2420, 2520, 2580, 2640, 2708, 2760, 2820, 2888, 2960, 3180, 3268, 3468, 3540, 3600, 3668, 3716, 3820, 3880, 3980, 4020, 4092, 4140, 4210, 4292, 4460, 4520, 4580, 4640, 4700, 4780, 4868, 5004, 5052, 5116, 5208, 5520, 5556, 5748, 5832, 5880, 5940, 5984, 6032, 6080, 6120, 6228, 6324, 6384, 6492, 6636, 6756, 6804, 6876, 6948, 7116, 7188, 7272, 7320, 7380, 7584, 7740, 7824, 7884, 8112, 8292, 8364, 8556, 8592, 8712, 8748, 8820, 8964, 9024, 9168, 9252, 9516, 9660, 9860]
adc_6673 = [68, 428, 468, 552, 660, 716, 772, 932, 1100, 1160, 1220, 1268, 1436, 1592, 1650, 1700, 1796, 1940, 2000, 2060, 2120, 2200, 2300, 2468, 2576, 2672, 2732, 2876, 2924, 3116, 3272, 3428, 3490, 3550, 3610, 3670, 3720, 3884, 4004, 4070, 4140, 4388, 4500, 4560, 4640, 4700, 4832, 4892, 5004, 5076, 5280, 5352, 5436, 5628, 5712, 5808, 5976, 6060, 6132, 6216, 6444, 6492, 6540, 6612, 6696, 6756, 6828, 6876, 6972, 7044, 7116, 7284, 7572, 7632, 7728, 7992, 8184, 8376, 8556, 8712, 8748, 8904, 9072, 9120, 9252, 9456]
adc_6672 = [176, 368, 536, 590, 650, 728, 812, 870, 930, 990, 1080, 1148, 1244, 1360, 1508, 1592, 1640, 1760, 1844, 1928, 2012, 2204, 2270, 2340, 2420, 2792, 3056, 3140, 3240, 3464, 3524, 3596, 3940, 4000, 4052, 4124, 4232, 4300, 4532, 4700, 4772, 4892, 4940, 4988, 5040, 5072, 5112, 5172, 5268, 5436, 5492, 5568, 5616, 5664, 5712, 5784, 5832, 6060, 6204, 6252, 6312, 6432, 6480, 6600, 6840, 6948, 7068, 7116, 7164, 7248, 7308, 7380, 7452, 7704, 7800, 7836, 7932, 7992, 8064, 8124, 8196, 8424, 8556, 8652, 8880, 8916, 9036, 9096, 9168, 9372, 9444, 9672, 9732, 9828, 9860]
adc_6671 = [68, 120, 170, 230, 290, 350, 400, 460, 520, 580, 640, 700, 1028, 1124, 1180, 1340, 1412, 1472, 1540, 1652, 1796, 1892, 1940, 2276, 2384, 2564, 2696, 2828, 2890, 2960, 3056, 3092, 3164, 3220, 3280, 3380, 3428, 3536, 3608, 3700, 3812, 4048, 4508, 4580, 4820, 4892, 4972, 5004, 5136, 5256, 5304, 5508, 5568, 5688, 5892, 6012, 6108, 6156, 6372, 6456, 6504, 6552, 6612, 6744, 6804, 7032, 7092, 7152, 7272, 7372, 7416, 7524, 7584, 7680, 7776, 7884, 7968, 8028, 8076, 8172, 8232, 8412, 8484, 8772, 8844, 8976, 9084, 9156, 9192, 9396, 9612, 9696, 9756]
adc_6670 = [56, 164, 260, 416, 476, 728, 812, 908, 1004, 1364, 2024, 2456, 2564, 2804, 2876, 2960, 3104, 3308, 3780, 4100, 4184, 4580, 4620, 4832, 4868, 4920, 5112, 5316, 5424, 5472, 5532, 6048, 6120, 6420, 6744, 6912, 7476, 7608, 7968, 8088, 8400, 8484, 8652, 8856, 9120, 9384, 9552, 9684, 9804]
adc_6669 = [284, 440, 488, 536, 580, 632, 680, 764, 896, 1040, 1064, 1220, 1460, 1544, 1784, 2408, 2636, 2900, 3020, 3080, 3164, 3212, 3248, 3416, 3488, 4496, 4544, 4724, 4772, 5076, 5100, 5640, 5736, 5820, 5868, 6312, 6792, 6828, 7188, 7308, 7596, 7644, 7788, 7908, 8064, 8316, 8628, 9132, 9276, 9540, 9624]
adc_6668 = [80, 608, 716, 740, 992, 1328, 1760, 1832, 2060, 2132, 2216, 2240, 2948, 3104, 3764, 4040, 4376, 4944, 5496, 5604, 5844, 6216, 6264, 6540, 6564, 6888, 6924, 7284, 7680, 7860, 8028, 8496, 8568, 8700, 8892, 9060]
adc_6667 = [116, 164, 380, 656, 764, 800, 840, 892, 940, 1472, 1868, 2132, 2156, 2540, 2696, 2768, 3032, 3092, 3176, 3272, 3524, 3980, 4064, 4292, 4328, 4628, 4700, 4796, 4944, 4980, 5172, 5544, 5592, 5664, 5712, 5784, 5916, 6000, 6180, 6240, 6408, 6564, 6684, 6792, 6948, 6996, 7272, 7716, 7824, 7932, 8400, 8652, 8784, 9024, 9132, 9204, 9420, 9456, 9732, 9756]
adc_6666 = [728, 824, 1268, 1340, 1376, 1508, 1544, 2120, 2600, 2684, 2852, 2960, 4532, 4640, 4992, 5040, 5076, 6288, 6384, 6732, 6912, 7032, 7416, 7464, 7716, 8196, 9408, 9660]
adc_6665 = [0, 584, 1280, 1880, 4088, 4664, 4992, 5112, 5976, 6648, 6708, 6816, 7044, 7176, 7404, 7956, 8040, 9420, 9612]
adc_6664 = [32, 368, 1028, 1160, 1652, 2444, 3152, 3524, 5400, 5832, 5868, 6024, 6168, 6252, 6300, 6576, 6624, 7056, 7488, 7776, 7908, 8304, 8748, 9456]
adc_6663 = [1316, 3656, 3740, 4616, 5796, 6288, 6840, 8544, 9576]
adc_6662 = [1208, 1796, 2672, 3632, 5964, 6060, 6168, 7200]
adc_6661 = [44, 2396, 4004]
adc_6660 = [836, 5064, 5184, 5364, 5676, 5988]
adc_6659 = [1580]
adc_6658 = [1376, 4568, 7068]
adc_6657 = [872]
adc_6654 = [1472]

levels = [6716, 6713, 6711, 6710, 6709, 6708, 6707, 6706, 6705, 6704, 6703, 6702, 6701, 6700,
          6699, 6698, 6697, 6696, 6695, 6694, 6693, 6692, 6691, 6690, 6689, 6688, 6687, 6686,
          6685, 6684, 6683, 6682, 6681, 6680, 6679, 6678, 6677, 6676, 6675, 6674, 6673, 6672,
          6671, 6670, 6669, 6668, 6667, 6666, 6665, 6664, 6663, 6662, 6661, 6660, 6659, 6658,
          6657, 6654]
rows = [adc_6716, adc_6713, adc_6711, adc_6710, adc_6709, adc_6708, adc_6707, adc_6706, adc_6705,
        adc_6704, adc_6703, adc_6702, adc_6701, adc_6700, adc_6699, adc_6698, adc_6697, adc_6696,
        adc_6695, adc_6694, adc_6693, adc_6692, adc_6691, adc_6690, adc_6689, adc_6688, adc_6687,
        adc_6686, adc_6685, adc_6684, adc_6683, adc_6682, adc_6681, adc_6680, adc_6679, adc_6678,
        adc_6677, adc_6676, adc_6675, adc_6674, adc_6673, adc_6672, adc_6671, adc_6670, adc_6669,
        adc_6668, adc_6667, adc_6666, adc_6665, adc_6664, adc_6663, adc_6662, adc_6661, adc_6660,
        adc_6659, adc_6658, adc_6657, adc_6654]

df = pd.DataFrame([(s, lev) for lev, row in zip(levels, rows) for s in row], columns=['sample', 'adc'])

fig, ax = plt.subplots(figsize=(10, 10), dpi=100)
sns.scatterplot(data=df, x='sample', y='adc', marker='.', s=36, color='black', edgecolor='black',
                linewidth=1, zorder=2, ax=ax,
                label='Samples\n$\\mu$ = 6685.04, $\\sigma$ = 7.77')

# the real dots overlap in the busy rows, so close the small gaps between neighbours there
for lev, row in zip(levels, rows):
    if 6675 <= lev <= 6695:
        for a, b in zip(row[:-1], row[1:]):
            if b - a <= 75:
                ax.hlines(lev, a, b, color='black', lw=3.0, zorder=2)

ax.set_xlim(-493, 10353)
ax.set_ylim(6650.9, 6719.1)
ax.set_title('Run 659, channel040, Pedestal')
ax.set_xlabel('Sample #')
ax.set_ylabel('ADC Counts')
ax.grid(True)
ax.legend(loc='upper right')
fig.subplots_adjust(left=0.081, right=0.985, top=0.965, bottom=0.059)
fig.savefig('out.png')
